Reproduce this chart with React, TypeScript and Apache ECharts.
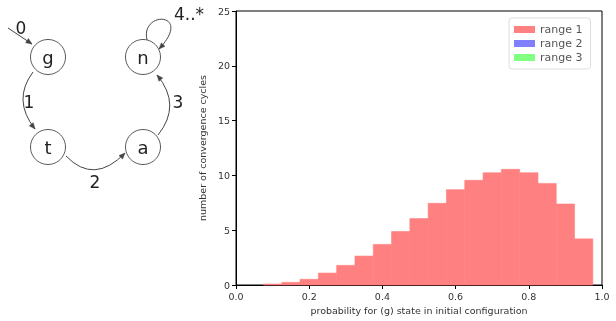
import React, { useEffect, useRef } from "react";
import * as echarts from "echarts";

const binCenters = [0.10, 0.15, 0.20, 0.25, 0.30, 0.35, 0.40, 0.45, 0.50, 0.55, 0.60, 0.65, 0.70, 0.75, 0.80, 0.85, 0.90, 0.95];
const range1Values = [0.09, 0.24, 0.52, 1.09, 1.79, 2.64, 3.70, 4.88, 6.06, 7.45, 8.70, 9.55, 10.24, 10.55, 10.24, 9.27, 7.39, 4.21];
const binWidth = 0.05;
const seriesNames = ["range 1", "range 2", "range 3"];
const seriesColors = ["#ff8080", "#8080ff", "#80ff80"];
const xTitle = "probability for (g) state in initial configuration";
const yTitle = "number of convergence cycles";

const FONT = "DejaVu Sans";
const LINE = "#444";

function arrowHead(tip: number[], from: number[]) {
  const dx = tip[0] - from[0];
  const dy = tip[1] - from[1];
  const len = Math.sqrt(dx * dx + dy * dy) || 1;
  const ux = dx / len, uy = dy / len;
  const L = 6, W = 2.5;
  const bx = tip[0] - ux * L, by = tip[1] - uy * L;
  return {
    type: "polygon",
    shape: { points: [tip, [bx - uy * W, by + ux * W], [bx + uy * W, by - ux * W]] },
    style: { fill: LINE, stroke: LINE, lineWidth: 0.5 },
    silent: true,
  };
}

function quadArrow(s: number[], c: number[], e: number[]) {
  return [
    {
      type: "bezierCurve",
      shape: { x1: s[0], y1: s[1], cpx1: c[0], cpy1: c[1], x2: e[0], y2: e[1] },
      style: { stroke: LINE, lineWidth: 1, fill: "none" },
      silent: true,
    },
    arrowHead(e, c),
  ];
}

function node(cx: number, cy: number, label: string) {
  return [
    { type: "circle", shape: { cx, cy, r: 17.5 }, style: { stroke: "#555", lineWidth: 1, fill: "#fff" }, silent: true },
    {
      type: "text", x: cx, y: cy,
      style: { text: label, fontFamily: FONT, fontSize: 18, fill: "#222", align: "center", verticalAlign: "middle" },
      silent: true,
    },
  ];
}

function label(x: number, y: number, t: string) {
  return {
    type: "text", x, y,
    style: { text: t, fontFamily: FONT, fontSize: 17, fill: "#222", align: "center", verticalAlign: "middle" },
    silent: true,
  };
}

export default function App() {
  const ref = useRef<HTMLDivElement>(null);
  useEffect(() => {
    if (!ref.current) return;
    const chart = echarts.init(ref.current, null, { renderer: "svg" });
    const loopS = [147, 40], loopC1 = [140, 10], loopC2 = [194, 12], loopE = [159, 49];
    const graphic: any[] = [
      ...node(48, 57, "g"),
      ...node(143, 57, "n"),
      ...node(48, 147, "t"),
      ...node(143, 147, "a"),
      { type: "line", shape: { x1: 8, y1: 28, x2: 32, y2: 44 }, style: { stroke: LINE, lineWidth: 1 }, silent: true },
      arrowHead([32, 44], [8, 28]),
      ...quadArrow([33, 72], [12, 100], [35, 129]),
      ...quadArrow([66, 156], [94, 185], [125, 153]),
      ...quadArrow([158, 135], [182, 105], [157, 75]),
      {
        type: "bezierCurve",
        shape: { x1: loopS[0], y1: loopS[1], cpx1: loopC1[0], cpy1: loopC1[1], cpx2: loopC2[0], cpy2: loopC2[1], x2: loopE[0], y2: loopE[1] },
        style: { stroke: LINE, lineWidth: 1, fill: "none" },
        silent: true,
      },
      arrowHead(loopE, loopC2),
      label(21, 28, "0"),
      label(29, 102, "1"),
      label(95, 182, "2"),
      label(178, 102, "3"),
      label(189, 14, "4..*"),
    ];

    const series: any[] = seriesNames.map((name, i) => ({
      type: "custom",
      name,
      itemStyle: { color: seriesColors[i] },
      encode: { x: 0, y: 1 },
      data: i === 0 ? binCenters.map((c, k) => [c, range1Values[k]]) : [],
      renderItem: (params: any, api: any) => {
        const x = api.value(0);
        const y = api.value(1);
        const p0 = api.coord([x - binWidth / 2, y]);
        const p1 = api.coord([x + binWidth / 2, 0]);
        return {
          type: "rect",
          shape: { x: p0[0], y: p0[1], width: p1[0] - p0[0], height: p1[1] - p0[1] },
          style: { fill: seriesColors[i], stroke: seriesColors[i], lineWidth: 0.6 },
        };
      },
    }));

    chart.setOption({
      animation: false,
      textStyle: { fontFamily: FONT },
      grid: { left: 236, top: 11, width: 366, height: 274, show: true, borderColor: "#000", borderWidth: 1, backgroundColor: "transparent" },
      xAxis: {
        type: "value", min: 0, max: 1, interval: 0.2,
        name: xTitle, nameLocation: "middle", nameGap: 20,
        nameTextStyle: { fontSize: 9.5, color: "#333", fontFamily: FONT },
        axisLine: { show: true, lineStyle: { color: "#000" } },
        axisTick: { show: true, length: 4, lineStyle: { color: "#000" } },
        axisLabel: { fontSize: 9.5, color: "#333", margin: 6, formatter: (v: number) => v.toFixed(1) },
        splitLine: { show: false },
      },
      yAxis: {
        type: "value", min: 0, max: 25, interval: 5,
        name: yTitle, nameLocation: "middle", nameGap: 24,
        nameTextStyle: { fontSize: 9.5, color: "#333", fontFamily: FONT },
        axisLine: { show: true, lineStyle: { color: "#000" } },
        axisTick: { show: true, length: 4, lineStyle: { color: "#000" } },
        axisLabel: { fontSize: 9.5, color: "#333", margin: 6 },
        splitLine: { show: false },
      },
      legend: {
        data: seriesNames,
        orient: "vertical",
        left: 509, top: 18,
        padding: [6, 8, 6, 5],
        itemGap: 3,
        itemWidth: 21, itemHeight: 7,
        icon: "rect",
        borderColor: "#ddd", borderWidth: 1, borderRadius: 3,
        textStyle: { fontSize: 11, color: "#555", fontFamily: FONT, lineHeight: 11 },
      },
      graphic,
      series,
    });
    return () => chart.dispose();
  }, []);
  return <div ref={ref} style={{ position: "fixed", left: 0, top: 0, width: 616, height: 321 }} />;
}
